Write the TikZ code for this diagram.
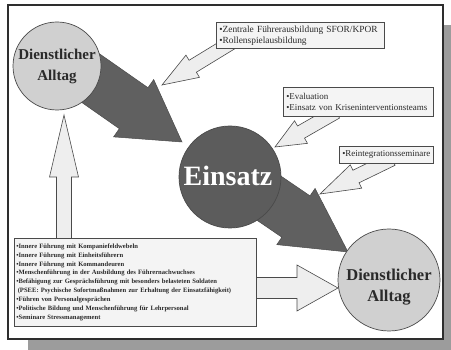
\documentclass[tikz,border=0pt]{standalone}
\usepackage{fontspec}
\setmainfont{Liberation Serif}
\usetikzlibrary{calc}

\definecolor{shadowgray}{HTML}{9C9C9C}
\definecolor{framecol}{HTML}{2E2E2E}
\definecolor{lightcirc}{HTML}{D0D0D0}
\definecolor{darkcirc}{HTML}{5C5C5C}
\definecolor{darkarrow}{HTML}{606060}
\definecolor{lightarrow}{HTML}{EEEEEE}
\definecolor{edgecol}{HTML}{4A4A4A}
\definecolor{boxfill}{HTML}{F4F4F4}
\definecolor{txt}{HTML}{2A2A2A}

% block arrow: #1 start, #2 tip, #3 half shaft width, #4 half head width,
% #5 head length, #6 style
\newcommand\blockarrow[6]{%
  \filldraw[#6] ($(#1)!#3!90:(#2)$)
    -- ($(#2)!#5!(#1)!#3!90:(#2)$)
    -- ($(#2)!#5!(#1)!#4!90:(#2)$)
    -- (#2)
    -- ($(#2)!#5!(#1)!#4!-90:(#2)$)
    -- ($(#2)!#5!(#1)!#3!-90:(#2)$)
    -- ($(#1)!#3!-90:(#2)$) -- cycle;}

\tikzset{
  heavyarrow/.style={fill=darkarrow, draw=edgecol, line width=0.5pt, line join=miter},
  thinarrow/.style={fill=lightarrow, draw=edgecol, line width=0.6pt, line join=miter},
  infobox/.style={draw=edgecol, fill=boxfill, line width=0.6pt, inner xsep=3pt,
    inner ysep=0pt, align=left, anchor=north west, text=txt,
    font=\fontsize{9}{11}\selectfont},
  lightdisc/.style={circle, fill=lightcirc, draw=edgecol, line width=0.7pt, inner sep=0pt},
  darkdisc/.style={circle, fill=darkcirc, draw=edgecol, line width=0.7pt, inner sep=0pt},
  disctext/.style={align=center, text=txt, font=\fontsize{15}{21}\bfseries\selectfont},
}

\begin{document}
\begin{tikzpicture}[x=1pt,y=-1pt]
\useasboundingbox (0,0) rectangle (451,350);

% page with drop shadow
\fill[shadowgray] (28,25) rectangle (451,350);
\draw[fill=white, draw=framecol, line width=1.4pt] (8,5) rectangle (443,339);

% arrow anchors
\coordinate (s1) at (59,56);   \coordinate (t1) at (182,142);
\coordinate (s2) at (232,173); \coordinate (t2) at (348,252);
\coordinate (s3) at (239,38);  \coordinate (t3) at (162,85);
\coordinate (s4) at (336,112); \coordinate (t4) at (275,147);
\coordinate (s5) at (392,159); \coordinate (t5) at (320,194);
\coordinate (s6) at (64,250);  \coordinate (t6) at (64,115);
\coordinate (s7) at (240,288); \coordinate (t7) at (338,288);

% light arrows from the boxes
\blockarrow{s3}{t3}{7pt}{13pt}{36pt}{thinarrow}
\blockarrow{s4}{t4}{7pt}{13pt}{30pt}{thinarrow}
\blockarrow{s5}{t5}{7pt}{13pt}{40pt}{thinarrow}
\blockarrow{s6}{t6}{7.5pt}{14.5pt}{62pt}{thinarrow}
\blockarrow{s7}{t7}{10.5pt}{23pt}{41pt}{thinarrow}

% heavy arrows through the deployment
\blockarrow{s1}{t1}{25pt}{35pt}{59pt}{heavyarrow}
\blockarrow{s2}{t2}{25pt}{34pt}{63pt}{heavyarrow}

% text boxes
\node[infobox, minimum width=168pt, minimum height=26pt, text width=162pt,
      font=\fontsize{9.4}{11}\selectfont] (zfa) at (216,22)
  {•Zentrale Führerausbildung SFOR/KPOR\\•Rollenspielausbildung};
\node[infobox, minimum width=150pt, minimum height=29pt, text width=144pt] (eval) at (283,87)
  {•Evaluation\\•Einsatz von Kriseninterventionsteams};
\node[infobox, minimum width=94pt, minimum height=17pt, text width=88pt] (reint) at (339,146)
  {•Reintegrationsseminare};
\node[infobox, minimum width=242pt, minimum height=88pt, text width=238pt, inner xsep=2pt,
      font=\fontsize{6.6}{8.9}\bfseries\selectfont] (ausb) at (14,238)
  {•Innere Führung mit Kompaniefeldwebeln\\
   •Innere Führung mit Einheitsführern\\
   •Innere Führung mit Kommandeuren\\
   •Menschenführung in der Ausbildung des Führernachwuchses\\
   •Befähigung zur Gesprächsführung mit besonders belasteten Soldaten\\
   \hspace*{1.5pt}(PSEE: Psychische Sofortmaßnahmen zur Erhaltung der Einsatzfähigkeit)\\
   •Führen von Personalgesprächen\\
   •Politische Bildung und Menschenführung für Lehrpersonal\\
   •Seminare Stressmanagement};

% discs
\node[lightdisc, minimum size=88pt] (alltagA) at (57,66) {};
\node[disctext] (alltagAtext) at (alltagA) {Dienstlicher\\Alltag};
\node[darkdisc, minimum size=102pt] (einsatz) at (230,177) {};
\node[text=white, font=\fontsize{28}{30}\bfseries\selectfont] (einsatztext) at (228,176) {Einsatz};
\node[lightdisc, minimum size=102pt] (alltagB) at (389,280) {};
\node[disctext, font=\fontsize{16.5}{21}\bfseries\selectfont] (alltagBtext) at (389,287) {Dienstlicher\\Alltag};
\end{tikzpicture}
\end{document}
